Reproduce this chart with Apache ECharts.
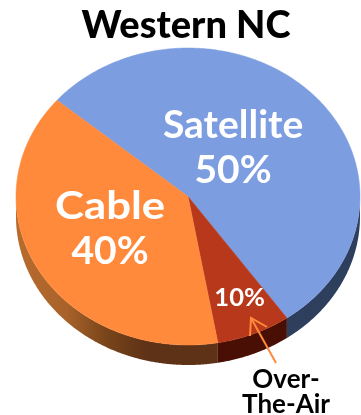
<!DOCTYPE html>
<html>
<head>
<meta charset="utf-8">
<style>html,body{margin:0;padding:0;background:#fff}#chart{width:361px;height:415px}</style>
<script src="https://cdn.jsdelivr.net/npm/echarts@6/dist/echarts.min.js"></script>
</head>
<body>
<div id="chart"></div>
<script>
// Household TV reception, Western NC
const categories = ['Satellite', 'Over-The-Air', 'Cable'];
const values = [50, 10, 40];
const sliceLabels = [['Satellite', '50%'], ['10%'], ['Cable', '40%']];
const titleText = 'Western NC';
const calloutLines = ['Over-', 'The-Air'];

const topColors = ['#7c9de0', '#b8381c', '#ff8a3c'];
const wallStops = [
  [[0, '#2e3f5e'], [1, '#2e3f5e']],
  [[0, '#4a0f04'], [1, '#4a0f04']],
  [[0, '#b86c2e'], [0.25, '#a8622a'], [0.45, '#78441a'], [0.65, '#5e3216'], [1, '#5e3216']]
];
const labelFonts = [39, 25.5, 39];
const labelWiden = [[1, 1], [1], [1.12, 1]];
const labelOffsets = [[0.262, -0.33], [0.30, 0.685], [-0.453, 0.215]];
const labelLeading = 45;
const fontFamily = 'Lato, "Open Sans", sans-serif';

// Disc geometry: an ellipse seen from above, with a short extruded wall
const disc = { cx: 188, cy: 196.5, rx: 172, ry: 148.5, depth: 20 };
const startDeg = 140;
// Perspective shift of the tilted disc: the near rim spreads, the far rim bunches
const tilt = { r: -7.65, a: -7.75, b: -15.97 };

const rad = d => d * Math.PI / 180;
const projected = deg => {
  const t = rad(deg);
  return deg + tilt.r + tilt.a * Math.sin(t) + tilt.b * Math.cos(t);
};
const rimPoint = deg => {
  const t = rad(projected(deg));
  return [disc.cx + disc.rx * Math.cos(t), disc.cy - disc.ry * Math.sin(t)];
};

const total = values.reduce((s, v) => s + v, 0);

function renderSlice(params, api) {
  const i = params.dataIndex;
  const before = values.slice(0, i).reduce((s, v) => s + v, 0);
  const from = startDeg - before / total * 360;
  const to = from - api.value(0) / total * 360;

  const rim = [];
  for (let d = from; d >= to - 1e-6; d -= 0.5) rim.push(rimPoint(d));
  rim.push(rimPoint(to));

  const front = rim.filter(p => p[1] >= disc.cy);
  const children = [];
  if (front.length > 1) {
    const wall = front.concat(front.slice().reverse().map(p => [p[0], p[1] + disc.depth]));
    children.push({
      type: 'polygon',
      shape: { points: wall },
      style: {
        fill: new echarts.graphic.LinearGradient(0, 0, 1, 0,
          wallStops[i].map(([offset, color]) => ({ offset, color })))
      }
    });
  }
  children.push({
    type: 'polygon',
    shape: { points: [[disc.cx, disc.cy]].concat(rim) },
    style: { fill: topColors[i], stroke: topColors[i], lineWidth: 0.5 }
  });

  const lines = sliceLabels[i];
  const anchorX = disc.cx + labelOffsets[i][0] * disc.rx;
  const anchorY = disc.cy + labelOffsets[i][1] * disc.ry;
  lines.forEach((line, k) => {
    children.push({
      type: 'text',
      z2: 10,
      x: anchorX,
      y: anchorY + (k - (lines.length - 1) / 2) * labelLeading,
      scaleX: labelWiden[i][k],
      style: {
        text: line,
        x: 0,
        y: 0,
        align: 'center',
        verticalAlign: 'middle',
        fill: '#ffffff',
        fontFamily,
        fontWeight: 'bold',
        fontSize: labelFonts[i]
      }
    });
  });
  return { type: 'group', children };
}

const chart = echarts.init(document.getElementById('chart'), null, { renderer: 'canvas' });
chart.setOption({
  animation: false,
  backgroundColor: '#ffffff',
  title: {
    text: titleText,
    left: 181,
    top: 2,
    textAlign: 'center',
    textStyle: { color: '#000000', fontFamily, fontWeight: 900, fontSize: 38 }
  },
  series: [{
    type: 'custom',
    coordinateSystem: 'none',
    silent: true,
    data: categories.map((name, i) => ({ name, value: [values[i]] })),
    renderItem: renderSlice
  }],
  graphic: [
    {
      type: 'polyline',
      z: 20,
      shape: { points: [[276, 363], [251, 318]] },
      style: { stroke: '#ff8a3c', lineWidth: 2, fill: null }
    },
    {
      type: 'polyline',
      z: 20,
      shape: { points: [[250, 336], [251, 318], [267, 327]] },
      style: { stroke: '#ff8a3c', lineWidth: 2, fill: null }
    }
  ].concat(calloutLines.map((line, k) => ({
    type: 'text',
    z: 20,
    style: {
      text: line,
      x: 286,
      y: 380 + k * 25,
      align: 'center',
      verticalAlign: 'middle',
      fill: '#000000',
      fontFamily,
      fontWeight: 'bold',
      fontSize: 26
    }
  })))
});
</script>
</body>
</html>
